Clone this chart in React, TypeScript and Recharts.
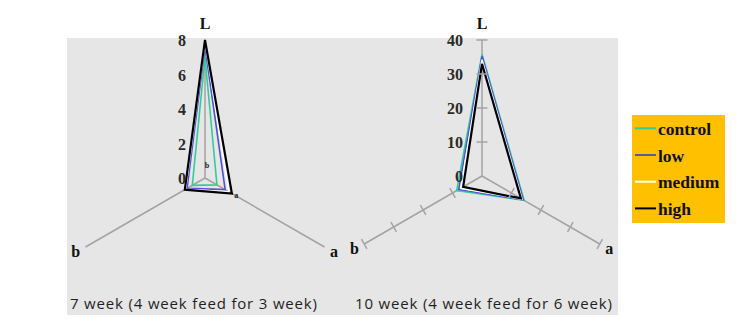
import React from 'react';
import { RadarChart, Radar, PolarGrid, PolarAngleAxis, PolarRadiusAxis, LabelList } from 'recharts';

const axisNames = ['L', 'a', 'b'];
const seriesNames = ['control', 'low', 'medium', 'high'];
const seriesColors = ['#33CC99', '#5050D0', '#FFFFFF', '#000000'];
const legendColors = ['#33CC99', '#5A5A9E', '#FFFFFF', '#000000'];
const seriesWidths = [1.6, 1.6, 1.6, 2.2];

const week7Control = [7.0, 0.8, 0.85];
const week7Low = [7.6, 1.35, 1.2];
const week7Medium = [7.9, 1.6, 1.3];
const week7High = [8.0, 1.8, 1.35];
const week7SigValues = [0.75, 1.95, 0];
const week7SigLetters = ['b', 'a', ''];
const week7Max = 8;

const week10Control = [35.8, 14.3, 8.6];
const week10Low = [35.2, 14.0, 7.9];
const week10Medium = [34.2, 13.6, 7.2];
const week10High = [33.0, 13.2, 6.4];
const week10Max = 40;

const titles = ['7 week (4 week feed for 3 week)', '10 week (4 week feed for 6 week)'];

const SERIF = '"Liberation Serif", "Times New Roman", serif';
const SANS = '"Open Sans", "Liberation Sans", sans-serif';
const AXIS_GRAY = '#A3A3A3';

function buildRows(series: number[][], sig?: number[], sigLetters?: string[]) {
  return axisNames.map((name, i) => {
    const row: any = { axis: name };
    seriesNames.forEach((s, j) => {
      row[s] = series[j][i];
    });
    if (sig && sigLetters) {
      row.sig = sig[i];
      row.sigLetter = sigLetters[i];
    }
    return row;
  });
}

const rows7 = buildRows([week7Control, week7Low, week7Medium, week7High], week7SigValues, week7SigLetters);
const rows10 = buildRows([week10Control, week10Low, week10Medium, week10High]);

type PanelProps = {
  rows: any[];
  max: number;
  cx: number;
  cy: number;
  r: number;
  tickMarks: boolean;
  hasSig: boolean;
};

function Panel({ rows, max, cx, cy, r, tickMarks, hasSig }: PanelProps) {
  const radiusTick = (props: any) => {
    const { x, y, payload } = props;
    const d = cy - y;
    const marks: any[] = [];
    if (tickMarks && payload.value !== 0) {
      [90, -30, 210].forEach((deg, k) => {
        const rad = (deg * Math.PI) / 180;
        const px = cx + d * Math.cos(rad);
        const py = cy - d * Math.sin(rad);
        const nx = Math.sin(rad);
        const ny = Math.cos(rad);
        marks.push(
          <line
            key={k}
            x1={px - 5.5 * nx}
            y1={py - 5.5 * ny}
            x2={px + 5.5 * nx}
            y2={py + 5.5 * ny}
            stroke={AXIS_GRAY}
            strokeWidth={1.5}
          />
        );
      });
    }
    return (
      <g>
        {marks}
        <text x={x - 19} y={y + 6} textAnchor="end" fontFamily={SERIF} fontWeight="bold" fontSize={16} fill="#2a2a2a">
          {payload.value}
        </text>
      </g>
    );
  };

  const angleTick = (props: any) => {
    const { x, y, payload } = props;
    const v = payload.value;
    let tx = x;
    let ty = y;
    let anchor: any = 'middle';
    if (v === 'L') {
      ty = y - 3;
    } else if (v === 'a') {
      tx = x - 1.5;
      ty = y + 6;
      anchor = 'start';
    } else {
      tx = x + 1.5;
      ty = y + 6;
      anchor = 'end';
    }
    return (
      <text x={tx} y={ty} textAnchor={anchor} fontFamily={SERIF} fontWeight="bold" fontSize={16} fill="#111">
        {v}
      </text>
    );
  };

  const sigContent = (props: any) => {
    const { x, y, value } = props;
    if (!value) return null;
    return (
      <text x={x + 2} y={y + 3} textAnchor="middle" fontFamily={SERIF} fontWeight="bold" fontSize={8} fill="#222">
        {value}
      </text>
    );
  };

  return (
    <div style={{ position: 'absolute', left: 0, top: 0 }}>
      <RadarChart
        width={739}
        height={333}
        data={rows}
        cx={cx}
        cy={cy}
        outerRadius={r}
        margin={{ top: 0, right: 0, bottom: 0, left: 0 }}
      >
        <PolarGrid gridType="polygon" polarRadius={[]} stroke={AXIS_GRAY} strokeWidth={1.5} />
        <PolarAngleAxis dataKey="axis" tick={angleTick} tickLine={false} axisLine={false} />
        <PolarRadiusAxis angle={90} domain={[0, max]} tickCount={5} axisLine={false} tick={radiusTick} />
        {seriesNames.map((s, j) => (
          <Radar
            key={s}
            dataKey={s}
            stroke={seriesColors[j]}
            strokeWidth={seriesWidths[j]}
            fill="none"
            fillOpacity={0}
            dot={false}
            isAnimationActive={false}
          />
        ))}
        {hasSig && (
          <Radar dataKey="sig" stroke="none" fill="none" fillOpacity={0} dot={false} isAnimationActive={false}>
            <LabelList dataKey="sigLetter" content={sigContent} />
          </Radar>
        )}
      </RadarChart>
    </div>
  );
}

export default function App() {
  return (
    <div style={{ position: 'absolute', left: 0, top: 0, width: 739, height: 333, background: '#fff', overflow: 'hidden' }}>
      <div style={{ position: 'absolute', left: 67, top: 38, width: 551, height: 277, background: '#E6E6E6' }} />
      <Panel rows={rows7} max={week7Max} cx={205} cy={178} r={138} tickMarks={false} hasSig={true} />
      <Panel rows={rows10} max={week10Max} cx={482} cy={176} r={136} tickMarks={true} hasSig={false} />
      <svg width={739} height={333} style={{ position: 'absolute', left: 0, top: 0 }}>
        <text x={70} y={309} fontFamily={SANS} fontSize={15} fill="#1F1F1F" textLength={247} lengthAdjust="spacing">
          {titles[0]}
        </text>
        <text x={355} y={309} fontFamily={SANS} fontSize={15} fill="#1F1F1F" textLength={257} lengthAdjust="spacing">
          {titles[1]}
        </text>
        <rect x={632} y={115} width={93} height={108} fill="#FFC000" />
        {seriesNames.map((s, i) => {
          const ly = 128.3 + i * 26.7;
          return (
            <g key={s}>
              <line x1={635} x2={656} y1={ly} y2={ly} stroke={legendColors[i]} strokeWidth={2} />
              <text x={658} y={ly + 6.5} fontFamily={SERIF} fontWeight="bold" fontSize={17.5} fill="#111">
                {s}
              </text>
            </g>
          );
        })}
      </svg>
    </div>
  );
}
